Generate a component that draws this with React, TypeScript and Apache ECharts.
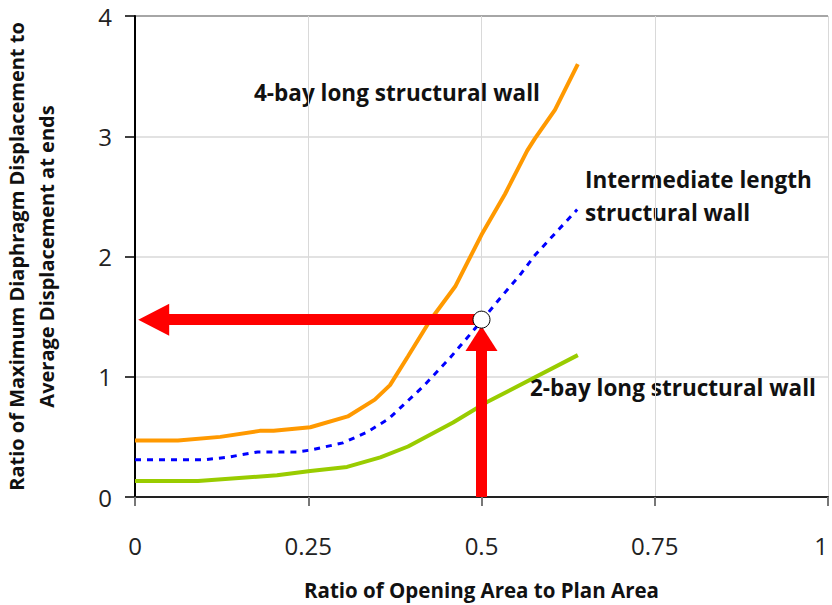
import React, { useEffect, useRef } from "react";
import * as echarts from "echarts";

// ----- data -----
const xTicks = [0, 0.25, 0.5, 0.75, 1];
const yTicks = [0, 1, 2, 3, 4];

const fourBayX = [0, 0.062, 0.123, 0.18, 0.2, 0.253, 0.307, 0.346, 0.368, 0.394, 0.426, 0.462, 0.5, 0.534, 0.566, 0.577, 0.606, 0.639];
const fourBayY = [0.47, 0.47, 0.5, 0.55, 0.55, 0.58, 0.67, 0.81, 0.93, 1.17, 1.47, 1.75, 2.18, 2.52, 2.88, 2.98, 3.22, 3.6];

const interX = [0, 0.1, 0.133, 0.177, 0.233, 0.253, 0.3, 0.335, 0.366, 0.416, 0.455, 0.498, 0.522, 0.556, 0.577, 0.638];
const interY = [0.31, 0.31, 0.33, 0.375, 0.375, 0.39, 0.45, 0.54, 0.65, 0.92, 1.16, 1.45, 1.62, 1.85, 2.01, 2.39];

const twoBayX = [0, 0.091, 0.205, 0.253, 0.306, 0.354, 0.394, 0.459, 0.508, 0.639];
const twoBayY = [0.133, 0.133, 0.18, 0.217, 0.25, 0.33, 0.42, 0.62, 0.79, 1.18];

// reading point and arrows (data coordinates)
const readPoint = [0.5, 1.475];
const hArrowEnd = [0.027, 1.475];
const vArrowStart = [0.5, 0];
const vArrowEnd = [0.5, 1.318];

const labels = {
  fourBay: "4-bay long structural wall",
  inter1: "Intermediate length",
  inter2: "structural wall",
  twoBay: "2-bay long structural wall",
};

const xName = "Ratio of Opening Area to Plan Area";
const yName = "Ratio of Maximum Diaphragm Displacement to\nAverage Displacement at ends";

const zip = (xs: number[], ys: number[]) => xs.map((x, i) => [x, ys[i]]);

const FONT = "'Open Sans', 'DejaVu Sans', sans-serif";

export default function App() {
  const ref = useRef<HTMLDivElement>(null);
  useEffect(() => {
    if (!ref.current) return;
    const chart = echarts.init(ref.current, null, { renderer: "svg" });
    const labelStyle = { fontFamily: FONT, fontWeight: "bold" as const, fontSize: 22.5, fill: "#111" };
    chart.setOption({
      animation: false,
      backgroundColor: "#ffffff",
      grid: { left: 135, top: 16, right: 4, bottom: 108, containLabel: false, outerBoundsMode: "none" },
      xAxis: {
        type: "value",
        min: 0,
        max: 1,
        interval: 0.25,
        name: xName,
        nameLocation: "middle",
        nameGap: 82,
        nameTextStyle: { fontFamily: FONT, fontWeight: "bold", fontSize: 20.5, color: "#111" },
        axisLine: { show: true, onZero: false, lineStyle: { color: "#222", width: 2 } },
        axisTick: { show: true, inside: false, length: 9, lineStyle: { color: "#777", width: 2 } },
        axisLabel: {
          margin: 36,
          fontFamily: FONT,
          fontSize: 24,
          color: "#222",
          alignMaxLabel: "right",
          formatter: (v: number) => (xTicks.includes(v) ? String(v) : ""),
        },
        splitLine: { show: true, lineStyle: { color: "#d9d9d9", width: 1 } },
      },
      yAxis: {
        type: "value",
        min: 0,
        max: 4,
        interval: 1,
        name: yName,
        nameLocation: "middle",
        nameGap: 74,
        nameTextStyle: { fontFamily: FONT, fontWeight: "bold", fontSize: 20, color: "#111", lineHeight: 30 },
        axisLine: { show: true, lineStyle: { color: "#000", width: 2 } },
        axisTick: { show: true, inside: false, length: 10, lineStyle: { color: "#000", width: 1.5 } },
        axisLabel: {
          margin: 23,
          fontFamily: FONT,
          fontSize: 24,
          color: "#222",
          formatter: (v: number) => (yTicks.includes(v) ? String(v) : ""),
        },
        splitLine: {
          show: true,
          lineStyle: { color: ["#d9d9d9", "#d9d9d9", "#d9d9d9", "#d9d9d9", "#888888"], width: 1.5 },
        },
      },
      series: [
        {
          name: "arrows",
          type: "line",
          data: [],
          z: 1,
          silent: true,
          markLine: {
            silent: true,
            symbol: ["none", "triangle"],
            label: { show: false },
            lineStyle: { color: "#ff0000", width: 11, type: "solid" },
            itemStyle: { color: "#ff0000" },
            emphasis: { disabled: true },
            data: [
              [
                { coord: readPoint, symbol: "none" },
                { coord: hArrowEnd, symbol: "triangle", symbolSize: [32, 31] },
              ],
              [
                { coord: vArrowStart, symbol: "none" },
                { coord: vArrowEnd, symbol: "triangle", symbolSize: [32, 25] },
              ],
            ],
          },
        },
        {
          name: "2-bay long structural wall",
          type: "line",
          data: zip(twoBayX, twoBayY),
          showSymbol: false,
          z: 2,
          lineStyle: { color: "#99cc00", width: 4 },
        },
        {
          name: "Intermediate length structural wall",
          type: "line",
          data: zip(interX, interY),
          showSymbol: false,
          z: 2,
          lineStyle: { color: "#0000ff", width: 3, type: [6, 6] },
        },
        {
          name: "4-bay long structural wall",
          type: "line",
          data: zip(fourBayX, fourBayY),
          showSymbol: false,
          z: 2,
          lineStyle: { color: "#ff9900", width: 4 },
        },
        {
          name: "point",
          type: "scatter",
          data: [readPoint],
          symbol: "circle",
          symbolSize: 17,
          z: 5,
          itemStyle: { color: "#ffffff", opacity: 1, borderColor: "#000", borderWidth: 1 },
        },
      ],
      graphic: [
        { type: "text", left: 254, top: 81, style: { ...labelStyle, text: labels.fourBay } },
        { type: "text", left: 585, top: 168, style: { ...labelStyle, text: labels.inter1 } },
        { type: "text", left: 585, top: 201, style: { ...labelStyle, text: labels.inter2 } },
        { type: "text", left: 530, top: 376, style: { ...labelStyle, text: labels.twoBay } },
      ],
    });
    return () => chart.dispose();
  }, []);
  return (
    <div
      ref={ref}
      style={{ position: "fixed", left: 0, top: 0, width: 832, height: 605, background: "#fff" }}
    />
  );
}
